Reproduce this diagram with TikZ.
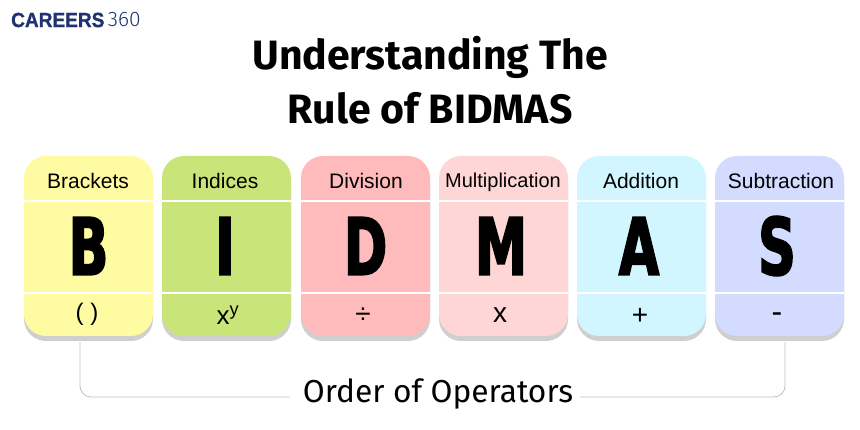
\documentclass[tikz,border=0pt]{standalone}
\usepackage{fontspec}
\usetikzlibrary{positioning}
\setmainfont{Liberation Sans}
\newfontfamily\titlefont{Fira Sans}
\newfontfamily\logobold[FakeStretch=0.93,FakeBold=1]{Liberation Sans}
\newfontfamily\logothin{Fira Sans Light}
\newfontfamily\bigfont[FakeStretch=0.66,FakeBold=2.2]{DejaVu Sans}
\definecolor{logoblue}{HTML}{1F3272}
\definecolor{yellowcard}{HTML}{FFFBA3}
\definecolor{greencard}{HTML}{C9E57A}
\definecolor{redcard}{HTML}{FFBBBB}
\definecolor{pinkcard}{HTML}{FFD6D6}
\definecolor{cyancard}{HTML}{D2F6FF}
\definecolor{bluecard}{HTML}{D3DCFF}
\tikzset{
  card/.style={minimum width=129pt,minimum height=180pt,rounded corners=22pt,inner sep=0pt},
  cardshadow/.style={card,fill=black!19},
  divider/.style={white,line width=2pt},
  opname/.style={inner sep=0pt,font=\fontsize{21}{24}\selectfont},
  bigletter/.style={inner sep=0pt,font=\bigfont\bfseries\fontsize{79}{80}\selectfont},
  opsign/.style={inner sep=0pt,font=\fontsize{24}{28}\selectfont},
  bracketline/.style={black!25,line width=0.8pt,rounded corners=11pt},
}
\begin{document}
\begin{tikzpicture}[x=1pt,y=-1pt]
    \useasboundingbox (0,0) rectangle (860,430);
    \node[inner sep=0pt,anchor=west,text=logoblue,font=\logobold\bfseries\fontsize{20.5}{24}\selectfont] (logoa) at (11,20) {CAREERS};
    \node[inner sep=0pt,text=logoblue,font=\logothin\fontsize{21}{24}\selectfont,right=3pt of logoa] (logob) {360};
    \node[inner sep=0pt,align=center,font=\titlefont\bfseries\fontsize{41}{54}\selectfont] (title) at (430,80) {Understanding The\\Rule of BIDMAS};

    \node[cardshadow] (shadowB) at (88.5,251) {};
    \node[cardshadow] (shadowI) at (226.5,251) {};
    \node[cardshadow] (shadowD) at (365.5,251) {};
    \node[cardshadow] (shadowM) at (503.5,251) {};
    \node[cardshadow] (shadowA) at (641.5,251) {};
    \node[cardshadow] (shadowS) at (779.5,251) {};

    \node[card,fill=yellowcard] (cardB) at (88.5,246) {};
    \node[card,fill=greencard] (cardI) at (226.5,246) {};
    \node[card,fill=redcard] (cardD) at (365.5,246) {};
    \node[card,fill=pinkcard] (cardM) at (503.5,246) {};
    \node[card,fill=cyancard] (cardA) at (641.5,246) {};
    \node[card,fill=bluecard] (cardS) at (779.5,246) {};

    \draw[divider] ([yshift=-45pt]cardB.north west) -- ([yshift=-45pt]cardB.north east);
    \draw[divider] ([yshift=-45pt]cardI.north west) -- ([yshift=-45pt]cardI.north east);
    \draw[divider] ([yshift=-45pt]cardD.north west) -- ([yshift=-45pt]cardD.north east);
    \draw[divider] ([yshift=-45pt]cardM.north west) -- ([yshift=-45pt]cardM.north east);
    \draw[divider] ([yshift=-45pt]cardA.north west) -- ([yshift=-45pt]cardA.north east);
    \draw[divider] ([yshift=-45pt]cardS.north west) -- ([yshift=-45pt]cardS.north east);
    \draw[divider] ([yshift=43pt]cardB.south west) -- ([yshift=43pt]cardB.south east);
    \draw[divider] ([yshift=43pt]cardI.south west) -- ([yshift=43pt]cardI.south east);
    \draw[divider] ([yshift=43pt]cardD.south west) -- ([yshift=43pt]cardD.south east);
    \draw[divider] ([yshift=43pt]cardM.south west) -- ([yshift=43pt]cardM.south east);
    \draw[divider] ([yshift=43pt]cardA.south west) -- ([yshift=43pt]cardA.south east);
    \draw[divider] ([yshift=43pt]cardS.south west) -- ([yshift=43pt]cardS.south east);

    \node[opname] (nameB) at (88,181) {Brackets};
    \node[opname] (nameI) at (225,181) {Indices};
    \node[opname] (nameD) at (366,181) {Division};
    \node[opname,font=\fontsize{20}{22}\selectfont] (nameM) at (503,182) {Multiplication};
    \node[opname] (nameA) at (641,181) {Addition};
    \node[opname] (nameS) at (781,181) {Subtraction};

    \node[bigletter] (letterB) at (88.5,246) {B};
    \node[bigletter] (letterI) at (225,246) {I};
    \node[bigletter] (letterD) at (365.5,246) {D};
    \node[bigletter] (letterM) at (501,246) {M};
    \node[bigletter] (letterA) at (639,246) {A};
    \node[bigletter] (letterS) at (777,246) {S};

    \node[opsign] (signB) at (87,314.5) {( )};
    \node[opsign,font=\fontsize{26}{28}\selectfont] (signI) at (228,315) {x\textsuperscript{y}};
    \node[opsign,font=\fontsize{28}{28}\selectfont] (signD) at (363,316) {÷};
    \node[opsign,font=\fontsize{28}{28}\selectfont] (signM) at (500,315) {x};
    \node[opsign,font=\fontsize{28}{28}\selectfont] (signA) at (640,316.5) {+};
    \node[opsign,font=\fontsize{32}{32}\selectfont] (signS) at (777,318) {-};

    \node[inner sep=0pt,font=\titlefont\fontsize{31.7}{36}\selectfont] (order) at (438,394) {Order of Operators};

    \coordinate (startB) at (80,342);
    \coordinate (startS) at (785,342);
    \coordinate (endL) at (290,397);
    \coordinate (endR) at (580,397);
    \draw[bracketline] (startB) |- (endL);
    \draw[bracketline] (startS) |- (endR);
\end{tikzpicture}
\end{document}
